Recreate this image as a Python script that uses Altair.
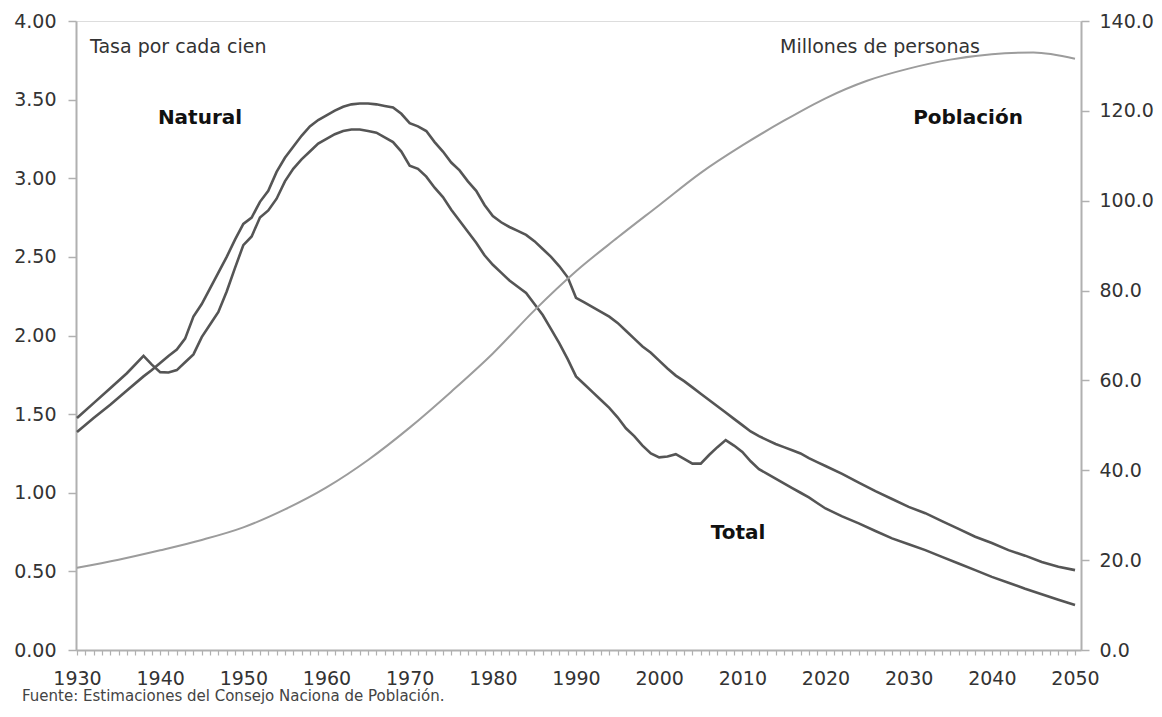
import altair as alt
import pandas as pd

# ---------------- data ----------------
anos_tasas = [1930, 1932, 1934, 1936] + list(range(1938, 2021)) + list(range(2022, 2051, 2))

tasa_total = [
    1.475, 1.57, 1.665, 1.76,
    1.87, 1.815, 1.767, 1.765, 1.78, 1.83, 1.88, 1.99, 2.07, 2.15,
    2.28, 2.43, 2.575, 2.63, 2.75, 2.795, 2.87, 2.98, 3.06, 3.12,
    3.17, 3.22, 3.25, 3.28, 3.30, 3.31, 3.31, 3.30, 3.29, 3.26,
    3.23, 3.17, 3.08, 3.06, 3.01, 2.94, 2.88, 2.80, 2.73, 2.66,
    2.59, 2.51, 2.45, 2.40, 2.35, 2.31, 2.27, 2.20, 2.13, 2.04,
    1.95, 1.85, 1.74, 1.69, 1.64, 1.59, 1.54, 1.48, 1.41, 1.36,
    1.30, 1.25, 1.225, 1.23, 1.245, 1.215, 1.185, 1.185, 1.24, 1.29,
    1.335, 1.30, 1.26, 1.20, 1.15, 1.12, 1.09, 1.06, 1.03, 1.00,
    0.97, 0.935, 0.90,
    0.85, 0.805, 0.757, 0.71, 0.672, 0.635, 0.592, 0.55, 0.508, 0.465,
    0.428, 0.39, 0.355, 0.32, 0.286,
]

tasa_natural = [
    1.386, 1.475, 1.56, 1.65,
    1.74, 1.78, 1.825, 1.87, 1.91, 1.98, 2.12, 2.20, 2.30, 2.40,
    2.50, 2.61, 2.71, 2.75, 2.85, 2.92, 3.04, 3.13, 3.20, 3.27,
    3.33, 3.37, 3.40, 3.43, 3.455, 3.47, 3.475, 3.475, 3.47, 3.46,
    3.45, 3.41, 3.35, 3.33, 3.30, 3.23, 3.17, 3.10, 3.05, 2.98,
    2.92, 2.83, 2.76, 2.72, 2.69, 2.665, 2.64, 2.60, 2.55, 2.50,
    2.44, 2.37, 2.24, 2.21, 2.18, 2.15, 2.12, 2.08, 2.03, 1.98,
    1.93, 1.89, 1.84, 1.79, 1.745, 1.71, 1.67, 1.63, 1.59, 1.55,
    1.51, 1.47, 1.43, 1.39, 1.36, 1.335, 1.31, 1.29, 1.27, 1.25,
    1.22, 1.195, 1.17,
    1.12, 1.065, 1.01, 0.96, 0.91, 0.87, 0.82, 0.77, 0.72, 0.68,
    0.635, 0.60, 0.56, 0.53, 0.508,
]

anos_poblacion = [1930, 1935, 1940, 1945, 1950, 1955, 1960, 1965, 1970, 1975,
                  1980, 1985, 1990, 1995, 2000, 2005, 2010, 2015, 2020, 2025,
                  2030, 2035, 2040, 2045, 2050]
poblacion = [18.3, 20.1, 22.2, 24.5, 27.3, 31.3, 36.2, 42.3, 49.5, 57.5,
             66.0, 75.6, 84.3, 91.8, 99.0, 106.2, 112.3, 117.8, 122.8, 126.7,
             129.4, 131.4, 132.6, 133.0, 131.6]

ticks_izq = [0, 0.5, 1.0, 1.5, 2.0, 2.5, 3.0, 3.5, 4.0]
ticks_der = [0, 20, 40, 60, 80, 100, 120, 140]
ticks_x = list(range(1930, 2051))

assert len(anos_tasas) == len(tasa_total) == len(tasa_natural)

df_tasas = pd.concat([
    pd.DataFrame({"anio": anos_tasas, "tasa": tasa_total, "serie": "Total"}),
    pd.DataFrame({"anio": anos_tasas, "tasa": tasa_natural, "serie": "Natural"}),
])
df_pob = pd.DataFrame({"anio": anos_poblacion, "pob": poblacion})

# ---------------- style ----------------
FONT = "DejaVu Sans"
AXIS_GRAY = "#b0b0b0"
TXT = "#333333"
W, H = 1005, 629

x_scale = alt.Scale(domain=[1929.88, 2050.72], nice=False, zero=False)
x_axis = alt.Axis(
    values=ticks_x, labelExpr="datum.value % 10 == 0 ? datum.label : ''",
    title=None, grid=False, tickSize=5, labelPadding=14, labelOverlap=False,
    labelFlush=False, labelFontSize=19, labelColor=TXT, labelFont=FONT,
    domainColor=AXIS_GRAY, domainWidth=2, tickColor=AXIS_GRAY, tickWidth=1.2,
    format="d",
)

tasas = alt.Chart(df_tasas).mark_line(strokeWidth=2.6, color="#555555").encode(
    x=alt.X("anio:Q", scale=x_scale, axis=x_axis),
    y=alt.Y(
        "tasa:Q",
        scale=alt.Scale(domain=[0, 4], nice=False, zero=True),
        axis=alt.Axis(
            values=ticks_izq, format=".2f", title=None, grid=False, orient="left",
            tickSize=8, labelPadding=12, labelFontSize=19, labelColor=TXT, labelFont=FONT,
            domainColor=AXIS_GRAY, domainWidth=2, tickColor=AXIS_GRAY, tickWidth=1.5,
        ),
    ),
    detail="serie:N",
)

pob = alt.Chart(df_pob).mark_line(strokeWidth=2, color="#9c9c9c", interpolate="monotone").encode(
    x=alt.X("anio:Q", scale=x_scale, axis=x_axis),
    y=alt.Y(
        "pob:Q",
        scale=alt.Scale(domain=[0, 140], nice=False, zero=True),
        axis=alt.Axis(
            values=ticks_der, format=".1f", title=None, grid=False, orient="right",
            tickSize=8, labelPadding=10, labelFontSize=19, labelColor=TXT, labelFont=FONT,
            domainColor=AXIS_GRAY, domainWidth=2, tickColor=AXIS_GRAY, tickWidth=1.5,
        ),
    ),
)


def texto(t, x, y, size=18, weight="normal", align="left", color=TXT):
    return alt.Chart(pd.DataFrame({"t": [t]})).mark_text(
        font=FONT, fontSize=size, fontWeight=weight, align=align,
        baseline="middle", color=color,
    ).encode(text="t:N", x=alt.value(x), y=alt.value(y))


anotaciones = [
    texto("Tasa por cada cien", 14, 26, size=19),
    texto("Millones de personas", 704, 26, size=19),
    texto("Natural", 124, 97, size=20, weight="bold", align="center", color="#111111"),
    texto("Población", 892, 97, size=20, weight="bold", align="center", color="#111111"),
    texto("Total", 662, 512, size=20, weight="bold", align="center", color="#111111"),
    texto("Fuente: Estimaciones del Consejo Naciona de Población.", -54, 675, size=15, color="#444444"),
]

chart = alt.layer(tasas, pob, *anotaciones).resolve_scale(y="independent").properties(
    width=W, height=H,
    autosize=alt.AutoSizeParams(type="none"),
    padding={"left": 68, "top": 13, "right": 73, "bottom": 58},
).configure_view(stroke=AXIS_GRAY, strokeWidth=2).configure(background="white")

chart.save("out.html", embed_options={"renderer": "svg", "actions": False})
